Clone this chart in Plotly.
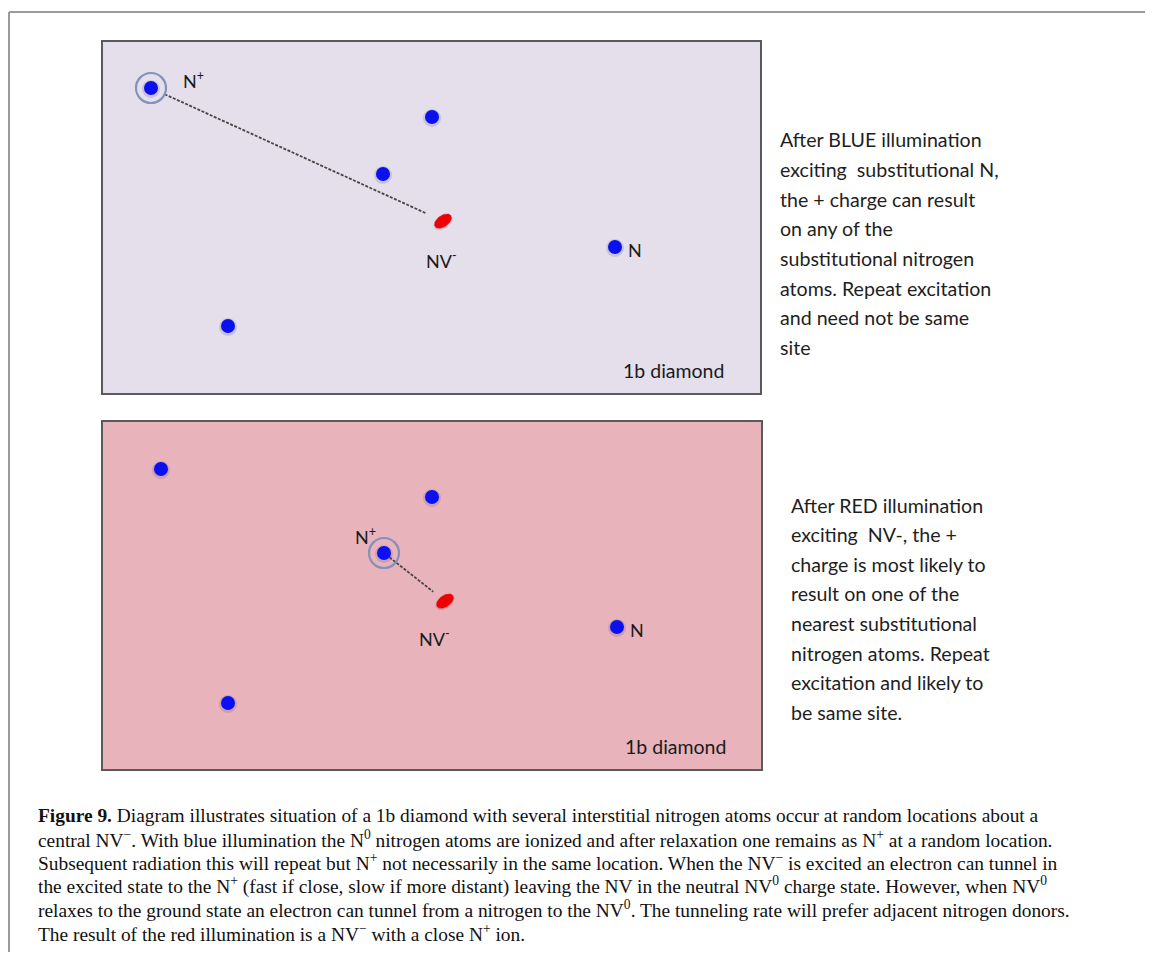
import numpy as np
import plotly.graph_objects as go

# page is 1153x960; the html body adds an 8px margin, so the figure is offset by 8px
OFF = 8
W, H = 1145, 944

# ---------------- data ----------------
# panel boxes in page pixels (left, top, right, bottom)
panel_boxes = [(102, 41, 761, 394), (102, 421, 762, 770)]
panel_fills = ["#e4dfeb", "#e8b3bb"]

# atom positions in panel coordinates (pixels from panel top-left)
top_n_x = [330, 281, 513, 126]
top_n_y = [76, 133, 206, 285]
top_nplus = [49, 47]
top_nv = [341, 180]

bot_n_x = [59, 330, 515, 126]
bot_n_y = [48, 76, 206, 282]
bot_nplus = [282, 132]
bot_nv = [343, 180]

top_text = ["After BLUE illumination",
            "exciting\u00a0 substitutional N,",
            "the + charge can result",
            "on any of the",
            "substitutional nitrogen",
            "atoms. Repeat excitation",
            "and need not be same",
            "site"]
bot_text = ["After RED illumination",
            "exciting\u00a0 NV-, the +",
            "charge is most likely to",
            "result on one of the",
            "nearest substitutional",
            "nitrogen atoms. Repeat",
            "excitation and likely to",
            "be same site."]

caption = [
    "<b>Figure 9.</b> Diagram illustrates situation of a 1b diamond with several interstitial nitrogen atoms occur at random locations about a",
    "central NV<sup>\u2212</sup>. With blue illumination the N<sup>0</sup> nitrogen atoms are ionized and after relaxation one remains as N<sup>+</sup> at a random location.",
    "Subsequent radiation this will repeat but N<sup>+</sup> not necessarily in the same location. When the NV<sup>\u2212</sup> is excited an electron can tunnel in",
    "the excited state to the N<sup>+</sup> (fast if close, slow if more distant) leaving the NV in the neutral NV<sup>0</sup> charge state. However, when NV<sup>0</sup>",
    "relaxes to the ground state an electron can tunnel from a nitrogen to the NV<sup>0</sup>. The tunneling rate will prefer adjacent nitrogen donors.",
    "The result of the red illumination is a NV<sup>\u2212</sup> with a close N<sup>+</sup> ion.",
]


def px(xp):
    return (xp - OFF) / W


def py(yp):
    return 1 - (yp - OFF) / H


# ---------------- figure ----------------
fig = go.Figure()

panels = [
    dict(nx=top_n_x, ny=top_n_y, nplus=top_nplus, nv=top_nv, gap0=15, gap1=18,
         nplus_lab=(79, 39), nv_lab=(339, 219), n_lab=(524, 209), dia=(624, 330)),
    dict(nx=bot_n_x, ny=bot_n_y, nplus=bot_nplus, nv=bot_nv, gap0=7, gap1=15,
         nplus_lab=(251, 115), nv_lab=(332, 217), n_lab=(526, 209), dia=(626, 325)),
]

SANS = "Lato"
BLUE = "#0a10f0"
RING = "#8491ba"

for i, (p, box, fill) in enumerate(zip(panels, panel_boxes, panel_fills)):
    ax = "" if i == 0 else str(i + 1)
    xr, yr = "x" + ax, "y" + ax
    l, t, r, b = box
    pw, ph = r - l, b - t
    fig.layout["xaxis" + ax] = dict(domain=[px(l), px(r)], range=[0, pw], visible=False,
                                    fixedrange=True, anchor=yr)
    fig.layout["yaxis" + ax] = dict(domain=[py(b), py(t)], range=[ph, 0], visible=False,
                                    fixedrange=True, anchor=xr)

    # panel background
    fig.add_shape(type="rect", xref=xr + " domain", yref=yr + " domain", x0=0, x1=1, y0=0, y1=1,
                  fillcolor=fill, line=dict(color="#5a5a5a", width=2), layer="below")

    # dashed connection N+ -> NV
    sx, sy = p["nplus"]
    ex, ey = p["nv"]
    d = np.hypot(ex - sx, ey - sy)
    ux, uy = (ex - sx) / d, (ey - sy) / d
    fig.add_trace(go.Scatter(x=[sx + ux * p["gap0"], ex - ux * p["gap1"]],
                             y=[sy + uy * p["gap0"], ey - uy * p["gap1"]],
                             mode="lines", line=dict(color="#474747", width=1.8, dash="3px,1.5px"),
                             xaxis=xr, yaxis=yr, hoverinfo="skip", showlegend=False))

    # all blue nitrogen dots (soft shadow + dot)
    allx = list(p["nx"]) + [sx]
    ally = list(p["ny"]) + [sy]
    fig.add_trace(go.Scatter(x=allx, y=[v + 1 for v in ally], mode="markers",
                             marker=dict(size=18, color="rgba(70,70,130,0.18)", line=dict(width=0)),
                             xaxis=xr, yaxis=yr, hoverinfo="skip", showlegend=False))
    fig.add_trace(go.Scatter(x=allx, y=ally, mode="markers",
                             marker=dict(size=14, color=BLUE, line=dict(width=0)),
                             xaxis=xr, yaxis=yr, hoverinfo="skip", showlegend=False))
    # ring around N+
    fig.add_trace(go.Scatter(x=[sx], y=[sy], mode="markers",
                             marker=dict(size=30, color=RING, symbol="circle-open",
                                         line=dict(width=2.2, color=RING)),
                             xaxis=xr, yaxis=yr, hoverinfo="skip", showlegend=False))

    # red NV ellipse
    tt = np.linspace(0, 2 * np.pi, 60)
    th = np.deg2rad(-35)
    a, bb = 9.5, 5.5
    exs = ex + a * np.cos(tt) * np.cos(th) - bb * np.sin(tt) * np.sin(th)
    eys = ey + a * np.cos(tt) * np.sin(th) + bb * np.sin(tt) * np.cos(th)
    fig.add_trace(go.Scatter(x=exs, y=eys + 1, mode="lines", fill="toself",
                             fillcolor="rgba(120,40,60,0.22)", line=dict(width=2.5, color="rgba(120,40,60,0.15)"),
                             xaxis=xr, yaxis=yr, hoverinfo="skip", showlegend=False))
    fig.add_trace(go.Scatter(x=exs, y=eys, mode="lines", fill="toself",
                             fillcolor="#f00000", line=dict(width=0.5, color="#e00000"),
                             xaxis=xr, yaxis=yr, hoverinfo="skip", showlegend=False))

    lab_font = dict(family=SANS, size=18, color="#1a1a1a")
    fig.add_annotation(x=p["nplus_lab"][0], y=p["nplus_lab"][1], xref=xr, yref=yr,
                       text="N<sup>+</sup>", showarrow=False, xanchor="left", yanchor="middle",
                       font=lab_font)
    fig.add_annotation(x=p["nv_lab"][0], y=p["nv_lab"][1], xref=xr, yref=yr,
                       text="NV<sup>-</sup>", showarrow=False, xanchor="center", yanchor="middle",
                       font=lab_font)
    fig.add_annotation(x=p["n_lab"][0], y=p["n_lab"][1], xref=xr, yref=yr,
                       text="N", showarrow=False, xanchor="left", yanchor="middle",
                       font=lab_font)
    fig.add_annotation(x=p["dia"][0], y=p["dia"][1], xref=xr, yref=yr,
                       text="1b diamond", showarrow=False, xanchor="right", yanchor="middle",
                       font=dict(family=SANS, size=19.5, color="#1a1a1a"))

# right-hand explanatory text
side_font = dict(family=SANS, size=19.6, color="#1e1e1e")
for k, line in enumerate(top_text):
    fig.add_annotation(x=px(778), y=py(140 + 29.6 * k), xref="paper", yref="paper",
                       text=line, showarrow=False, xanchor="left", yanchor="middle", font=side_font)
for k, line in enumerate(bot_text):
    fig.add_annotation(x=px(789), y=py(505 + 29.6 * k), xref="paper", yref="paper",
                       text=line, showarrow=False, xanchor="left", yanchor="middle", font=side_font)

# caption
cap_font = dict(family="Liberation Serif", size=19.4, color="#111111")
for k, line in enumerate(caption):
    fig.add_annotation(x=px(36), y=py(815 + 23.5 * k), xref="paper", yref="paper",
                       text=line, showarrow=False, xanchor="left", yanchor="middle", font=cap_font)

# outer frame (top and left edges)
fig.add_shape(type="line", xref="paper", yref="paper", x0=px(9), x1=1, y0=py(12), y1=py(12),
              line=dict(color="#9a9a9a", width=2))
fig.add_shape(type="line", xref="paper", yref="paper", x0=px(9), x1=px(9), y0=py(12), y1=0,
              line=dict(color="#9a9a9a", width=2))

fig.update_layout(width=W, height=H, margin=dict(l=0, r=0, t=0, b=0),
                  paper_bgcolor="white", plot_bgcolor="rgba(0,0,0,0)", showlegend=False)

fig.write_html("out.html", config={"displayModeBar": False})
